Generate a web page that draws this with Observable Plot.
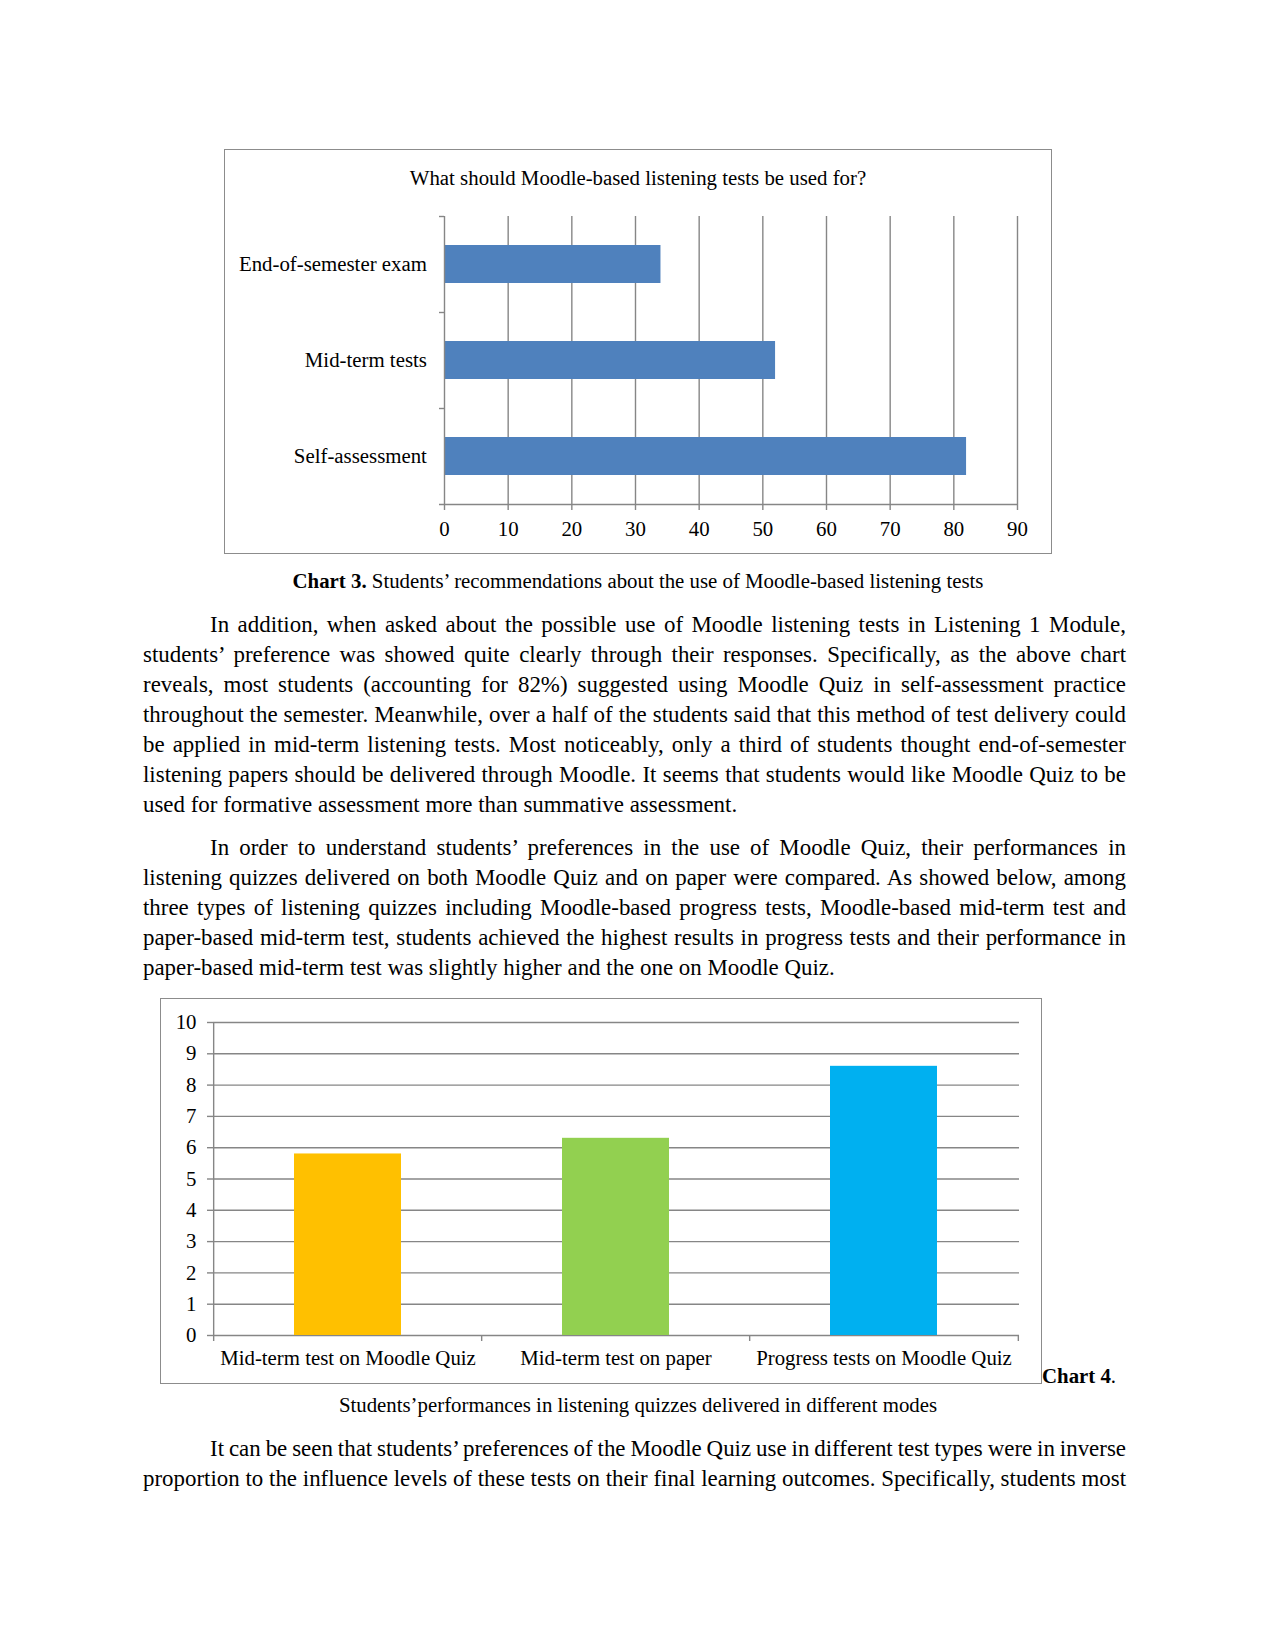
<!DOCTYPE html>
<html><head><meta charset="utf-8">
<script src="https://cdn.jsdelivr.net/npm/d3@7"></script>
<script src="https://cdn.jsdelivr.net/npm/@observablehq/plot@0.6"></script>
<style>
body{margin:0;background:#fff;}
#page{position:relative;width:1274px;height:1649px;background:#fff;font-family:"Liberation Serif","Times New Roman",serif;color:#000;overflow:hidden;}
.ln{position:absolute;left:143px;width:983px;font-size:22.92px;line-height:30px;text-align:justify;text-align-last:justify;}
.ln.ind{left:210px;width:916px;}
.ln.last{text-align-last:left;}
.ln.tight{word-spacing:-3px;}
.frame{position:absolute;border:1.5px solid #8c8c8c;box-sizing:border-box;}
.cap{position:absolute;font-size:20.83px;line-height:24px;white-space:nowrap;}
.chart{position:absolute;}
</style></head>
<body><div id="page">
<div class="frame" style="left:224px;top:149px;width:828px;height:405px;"></div>
<div class="cap" style="left:225px;width:826px;top:166px;text-align:center;">What should Moodle-based listening tests be used for?</div>
<div id="c3" class="chart" style="left:225px;top:203px;"></div>
<div class="cap" style="left:225px;width:826px;top:569px;text-align:center;"><b>Chart 3.</b> Students’ recommendations about the use of Moodle-based listening tests</div>

<div class="ln ind" style="top:610px">In addition, when asked about the possible use of Moodle listening tests in Listening 1 Module,</div>
<div class="ln" style="top:640px">students’ preference was showed quite clearly through their responses. Specifically, as the above chart</div>
<div class="ln" style="top:670px">reveals, most students (accounting for 82%) suggested using Moodle Quiz in self-assessment practice</div>
<div class="ln tight" style="top:700px">throughout the semester. Meanwhile, over a half of the students said that this method of test delivery could</div>
<div class="ln" style="top:730px">be applied in mid-term listening tests. Most noticeably, only a third of students thought end-of-semester</div>
<div class="ln" style="top:760px">listening papers should be delivered through Moodle. It seems that students would like Moodle Quiz to be</div>
<div class="ln last" style="top:790px">used for formative assessment more than summative assessment.</div>

<div class="ln ind" style="top:833px">In order to understand students’ preferences in the use of Moodle Quiz, their performances in</div>
<div class="ln" style="top:863px">listening quizzes delivered on both Moodle Quiz and on paper were compared. As showed below, among</div>
<div class="ln" style="top:893px">three types of listening quizzes including Moodle-based progress tests, Moodle-based mid-term test and</div>
<div class="ln tight" style="top:923px">paper-based mid-term test, students achieved the highest results in progress tests and their performance in</div>
<div class="ln last" style="top:953px">paper-based mid-term test was slightly higher and the one on Moodle Quiz.</div>

<div class="frame" style="left:160px;top:998px;width:882px;height:386px;"></div>
<div id="c4" class="chart" style="left:160px;top:999px;"></div>
<div class="cap" style="left:1042px;top:1364px;"><b>Chart 4</b>.</div>
<div class="cap" style="left:338px;width:600px;top:1393px;text-align:center;">Students’performances in listening quizzes delivered in different modes</div>

<div class="ln ind tight" style="top:1434px">It can be seen that students’ preferences of the Moodle Quiz use in different test types were in inverse</div>
<div class="ln tight" style="top:1464px">proportion to the influence levels of these tests on their final learning outcomes. Specifically, students most</div>
</div>
<script>
// Chart 3 data
const purposes = ["End-of-semester exam", "Mid-term tests", "Self-assessment"];
const purposeValues = [34, 52, 82];
const xTicks3 = [0, 10, 20, 30, 40, 50, 60, 70, 80, 90];
// Chart 4 data
const modes = ["Mid-term test on Moodle Quiz", "Mid-term test on paper", "Progress tests on Moodle Quiz"];
const modeScores = [5.8, 6.3, 8.6];
const modeColors = ["#FFC000", "#92D050", "#00B0F0"];
const yTicks4 = [0, 1, 2, 3, 4, 5, 6, 7, 8, 9, 10];

const grid = "#868686";
const font = {fontFamily: "'Liberation Serif','Times New Roman',serif", fontSize: "20.83px", color: "#000", background: "transparent", overflow: "visible"};

// ---- Chart 3 ----
{
  const W = 826, H = 347, ml = 219, mr = 34, mt = 13, mb = 46;
  const step = (H - mt - mb) / purposes.length;
  const tickU = 5 / ((W - ml - mr) / 90);
  const data = purposes.map((p, i) => ({purpose: p, value: purposeValues[i]}));
  const chart = Plot.plot({
    width: W, height: H, marginLeft: ml, marginRight: mr, marginTop: mt, marginBottom: mb,
    style: font,
    x: {domain: [0, 90], label: null},
    y: {domain: purposes, paddingInner: 0.6, paddingOuter: 0.3, label: null},
    marks: [
      Plot.ruleX(xTicks3.slice(1), {stroke: grid, strokeWidth: 1.4}),
      Plot.barX(data, {x: "value", y: "purpose", fill: "#4F81BD"}),
      Plot.ruleX([0], {stroke: grid, strokeWidth: 1.4}),
      Plot.ruleY(purposes, {x1: -tickU, x2: 0, dy: -step / 2, stroke: grid, strokeWidth: 1.4}),
      Plot.ruleY(purposes.slice(-1), {x1: -tickU, x2: 90, dy: step / 2, stroke: grid, strokeWidth: 1.4}),
      Plot.axisX({ticks: xTicks3, tickSize: 6, tickPadding: 11, stroke: grid, strokeWidth: 1.4, label: null}),
      Plot.axisY({tickSize: 0, tickPadding: 17.6, label: null})
    ]
  });
  document.getElementById("c3").append(chart);
}

// ---- Chart 4 ----
{
  const W = 880, H = 384, ml = 53, mr = 21, mt = 23, mb = 48;
  const step = (W - ml - mr) / modes.length;
  const tickU = 6 / ((H - mt - mb) / 10);
  const data = modes.map((m, i) => ({mode: m, score: modeScores[i]}));
  const chart = Plot.plot({
    width: W, height: H, marginLeft: ml, marginRight: mr, marginTop: mt, marginBottom: mb,
    style: font,
    x: {domain: modes, paddingInner: 0.6, paddingOuter: 0.3, label: null},
    y: {domain: [0, 10], label: null},
    color: {domain: modes, range: modeColors},
    marks: [
      Plot.ruleY(yTicks4, {stroke: grid, strokeWidth: 1.4}),
      Plot.barY(data, {x: "mode", y: "score", fill: "mode"}),
      Plot.ruleX(modes.slice(0, 1), {y1: 0, y2: 10, dx: -step / 2, stroke: grid, strokeWidth: 1.4}),
      Plot.ruleX(modes, {y1: 0, y2: -tickU, dx: -step / 2, stroke: grid, strokeWidth: 1.4}),
      Plot.ruleX(modes.slice(-1), {y1: 0, y2: -tickU, dx: step / 2, stroke: grid, strokeWidth: 1.4}),
      Plot.axisY({ticks: yTicks4, tickSize: 6, tickPadding: 11, stroke: grid, strokeWidth: 1.4, label: null}),
      Plot.axisX({tickSize: 0, tickPadding: 15, label: null})
    ]
  });
  document.getElementById("c4").append(chart);
}
</script>
</body></html>
